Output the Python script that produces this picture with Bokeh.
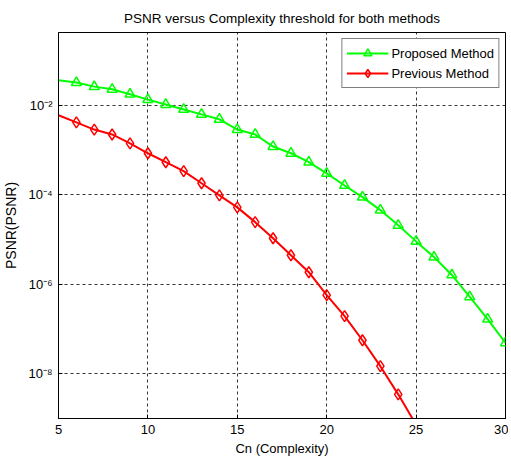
from bokeh.plotting import figure
from bokeh.models import (FixedTicker, CustomJSTickFormatter, Legend, LegendItem,
                          ColumnDataSource)
from bokeh.embed import file_html
from bokeh.resources import INLINE

# Data (log10 values converted)
cn = [5, 6, 7, 8, 9, 10, 11, 12, 13, 14, 15, 16, 17, 18, 19, 20, 21, 22, 23, 24, 25, 26, 27, 28, 29, 30]
proposed_log = [-1.44, -1.49, -1.58, -1.64, -1.75, -1.87, -1.98, -2.09, -2.20, -2.31, -2.54, -2.65,
                -2.92, -3.07, -3.27, -3.52, -3.79, -4.05, -4.34, -4.68, -5.04, -5.39, -5.79,
                -6.28, -6.78, -7.31]
previous_log = [-2.22, -2.38, -2.54, -2.65, -2.85, -3.07, -3.27, -3.47, -3.74, -4.01, -4.28, -4.61,
                -4.97, -5.35, -5.73, -6.24, -6.71, -7.25, -7.83, -8.46, -9.14]
cn_prev = cn[:len(previous_log)]
proposed = [10 ** v for v in proposed_log]
previous = [10 ** v for v in previous_log]
y_ticks = [1e-8, 1e-6, 1e-4, 1e-2]
x_ticks = [5, 10, 15, 20, 25, 30]

FONT = "Liberation Sans"

p = figure(frame_width=447, frame_height=386, output_backend="svg", toolbar_location=None,
           y_axis_type="log", x_range=(5, 30), y_range=(1e-9, 10 ** -0.37),
           min_border_left=50, min_border_right=3, min_border_top=32, min_border_bottom=41)

p.title.text = "PSNR versus Complexity threshold for both methods"
p.title.align = "center"
p.title.vertical_align = "top"
p.title.text_font = FONT
p.title.text_font_size = "13.5px"
p.title.text_font_style = "normal"
p.title.text_color = "black"
p.title.offset = 0
p.title.standoff = 10

p.outline_line_color = "black"
p.outline_line_width = 1
p.background_fill_color = "white"
p.border_fill_color = "white"

src_g = ColumnDataSource(dict(x=cn, y=proposed))
src_gm = ColumnDataSource(dict(x=cn[1:], y=proposed[1:]))
src_r = ColumnDataSource(dict(x=cn_prev, y=previous))
src_rm = ColumnDataSource(dict(x=cn_prev[1:], y=previous[1:]))

gl = p.line("x", "y", source=src_g, line_color="#00ff00", line_width=2)
gm = p.scatter("x", "y", source=src_gm, marker="triangle", size=10, fill_color=None,
               line_color="#00ff00", line_width=1.5)
rl = p.line("x", "y", source=src_r, line_color="#ff0000", line_width=2)
rm = p.scatter("x", "y", source=src_rm, marker="diamond", size=11, fill_color=None,
               line_color="#ff0000", line_width=1.5)

fmt = CustomJSTickFormatter(code="""
const e = Math.round(Math.log10(tick));
const sup = {"-":"\u207b","0":"\u2070","1":"\u00b9","2":"\u00b2","3":"\u00b3","4":"\u2074",
             "5":"\u2075","6":"\u2076","7":"\u2077","8":"\u2078","9":"\u2079"};
return "10" + String(e).split("").map(c => sup[c]).join("");
""")

xa = p.xaxis[0]
xa.ticker = FixedTicker(ticks=x_ticks)
xa.axis_label = "Cn (Complexity)"
ya = p.yaxis[0]
ya.ticker = FixedTicker(ticks=y_ticks)
ya.formatter = fmt
ya.axis_label = "PSNR(PSNR)"

for ax in (xa, ya):
    ax.axis_label_text_font = FONT
    ax.axis_label_text_font_style = "normal"
    ax.axis_label_text_color = "black"
    ax.major_label_text_font = FONT
    ax.major_label_text_font_size = "13px"
    ax.major_label_text_color = "black"
    ax.major_tick_in = 4
    ax.major_tick_out = 0
    ax.minor_tick_line_color = None
    ax.axis_line_color = "black"
    ax.major_tick_line_color = "black"
    ax.major_label_standoff = 6
xa.axis_label_text_font_size = "13px"
ya.axis_label_text_font_size = "14px"
xa.axis_label_standoff = 4
ya.axis_label_standoff = 6

for g in (p.xgrid[0], p.ygrid[0]):
    g.grid_line_color = "black"
    g.grid_line_dash = "3 3"
    g.grid_line_width = 1
    g.grid_line_alpha = 0.8
p.xgrid[0].ticker = FixedTicker(ticks=[10, 15, 20, 25])
p.ygrid[0].ticker = FixedTicker(ticks=y_ticks)

legend = Legend(items=[LegendItem(label="Proposed Method", renderers=[gl, gm]),
                       LegendItem(label="Previous Method", renderers=[rl, rm])],
                location="top_right")
legend.label_text_font = FONT
legend.label_text_font_size = "13px"
legend.label_text_color = "black"
legend.border_line_color = "black"
legend.border_line_width = 1
legend.background_fill_color = "white"
legend.background_fill_alpha = 1
legend.margin = 6
legend.padding = 4
legend.spacing = 0
legend.glyph_width = 42
legend.glyph_height = 20
legend.label_height = 20
legend.label_standoff = 3
p.add_layout(legend, "center")

open("out.html", "w").write(file_html(p, INLINE))
